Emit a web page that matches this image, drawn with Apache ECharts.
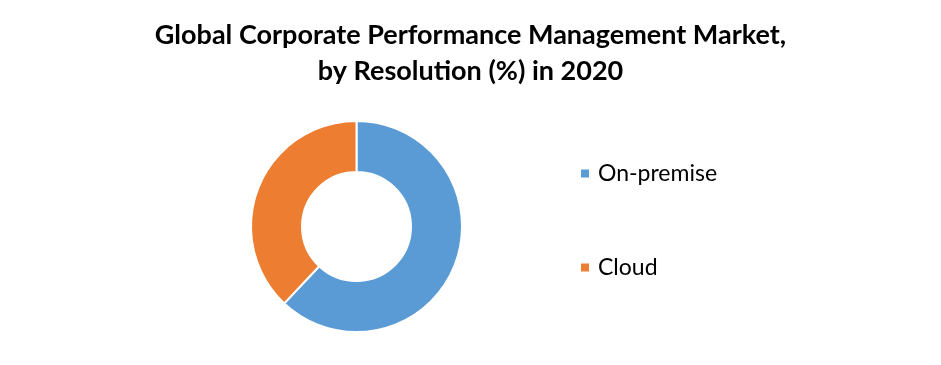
<!DOCTYPE html>
<html><head><meta charset="utf-8">
<script src="https://cdn.jsdelivr.net/npm/echarts@6/dist/echarts.min.js"></script>
<style>html,body{margin:0;padding:0;background:#fff}#c{width:941px;height:365px}</style>
</head><body><div id="c"></div>
<script>
const categories = ["On-premise", "Cloud"];
const shares = [62, 38];
const colors = ["#5B9BD5", "#ED7D31"];
const titleText = "Global Corporate Performance Management Market,\nby Resolution (%) in 2020";

const chart = echarts.init(document.getElementById('c'));
chart.setOption({
  animation: false,
  color: colors,
  title: {
    text: titleText,
    left: 'center',
    top: 12,
    textStyle: { fontFamily: 'Lato', fontWeight: 'bold', fontSize: 27, color: '#000', lineHeight: 36 }
  },
  legend: {
    orient: 'vertical',
    left: 574,
    top: 157,
    itemWidth: 10,
    itemHeight: 10,
    itemGap: 71,
    icon: 'rect',
    textStyle: { fontFamily: 'Lato', fontSize: 23, color: '#000', padding: [0, 0, 0, 3] },
    data: categories
  },
  series: [{
    type: 'pie',
    center: [356.5, 226.5],
    radius: [54.5, 105.5],
    startAngle: 90,
    clockwise: true,
    label: { show: false },
    labelLine: { show: false },
    itemStyle: { borderColor: '#fff', borderWidth: 2 },
    emphasis: { disabled: true },
    data: categories.map((c, i) => ({ name: c, value: shares[i] }))
  }]
});
</script></body></html>
